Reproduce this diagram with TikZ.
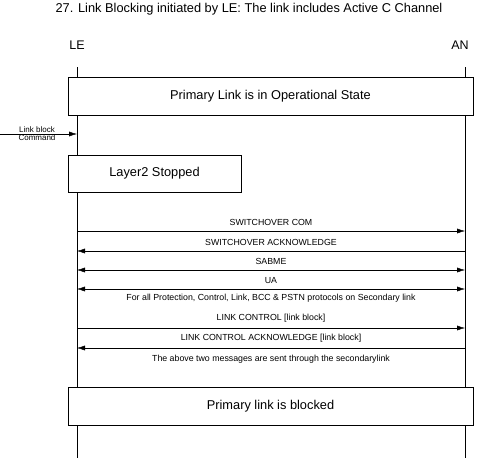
\documentclass[tikz,border=0pt]{standalone}
\usepackage{fontspec}
\setmainfont{Liberation Sans}
\usetikzlibrary{positioning,arrows.meta}

\tikzset{
	statebox/.style={draw, rectangle, fill=white, inner sep=0pt, minimum height=38pt, font=\fontsize{12.8}{15}\selectfont},
	msg/.style={font=\fontsize{8.8}{10}\selectfont, inner sep=0pt},
	sig/.style={draw, >={Latex[length=8pt, width=5pt]}, ->},
}

\begin{document}
\begin{tikzpicture}[x=1pt, y=-1pt]
	\useasboundingbox (0,0) rectangle (485,458);

	\node[font=\fontsize{12.8}{15}\selectfont] (title) at (249,9) {27. Link Blocking initiated by LE: The link includes Active C Channel};
	\node[font=\fontsize{12.5}{14}\selectfont] (le) at (77,45) {LE};
	\node[font=\fontsize{12.5}{14}\selectfont] (an) at (460,45) {AN};

	% lifelines
	\coordinate (letop) at (77,67);
	\coordinate (lebot) at (77,458);
	\coordinate (antop) at (465,67);
	\coordinate (anbot) at (465,458);
	\draw (letop) -- (lebot);
	\draw (antop) -- (anbot);

	% states
	\node[statebox, minimum width=405pt] (operational) at (270.5,96) {Primary Link is in Operational State};
	\node[statebox, minimum width=173pt, minimum height=37pt] (layer2) at (154.5,173.5) {Layer2 Stopped};
	\node[statebox, minimum width=405pt] (blocked) at (270.5,406) {Primary link is blocked};

	% external command
	\coordinate (cmdstart) at (0,134);
	\coordinate (cmdend) at (77,134);
	\path [sig] (cmdstart) -- (cmdend);
	\node[msg, font=\fontsize{8}{9}\selectfont, above=1pt] (cmdtop) at (37,134) {Link block};
	\node[msg, font=\fontsize{8}{9}\selectfont, below=1pt] (cmdbot) at (37,134) {Command};

	% messages
	\coordinate (le1) at (77,231);
	\coordinate (an1) at (465,231);
	\coordinate (le2) at (77,251);
	\coordinate (an2) at (465,251);
	\coordinate (le3) at (77,270);
	\coordinate (an3) at (465,270);
	\coordinate (le4) at (77,289);
	\coordinate (an4) at (465,289);
	\coordinate (le5) at (77,328);
	\coordinate (an5) at (465,328);
	\coordinate (le6) at (77,348);
	\coordinate (an6) at (465,348);

	\path [sig] (le1) -- node[msg, above=5pt] (swcom) {SWITCHOVER COM} (an1);
	\path [sig] (an2) -- node[msg, above=5pt] (swack) {SWITCHOVER ACKNOWLEDGE} (le2);
	\path [sig, <->] (le3) -- node[msg, above=5pt] (sabme) {SABME} (an3);
	\path [sig, <->] (le4) -- node[msg, above=5pt] (ua) {UA} (an4);
	\node[msg, below=5pt of ua.south |- le4] (forall) {For all Protection, Control, Link, BCC \& PSTN protocols on Secondary link};
	\path [sig] (le5) -- node[msg, above=5pt] (lnkctl) {LINK CONTROL [link block]} (an5);
	\path [sig] (an6) -- node[msg, above=5pt] (lnkack) {LINK CONTROL ACKNOWLEDGE [link block]} (le6);
	\node[msg, below=7pt of lnkack.south |- le6] (note) {The above two messages are sent through the secondarylink};
\end{tikzpicture}
\end{document}
